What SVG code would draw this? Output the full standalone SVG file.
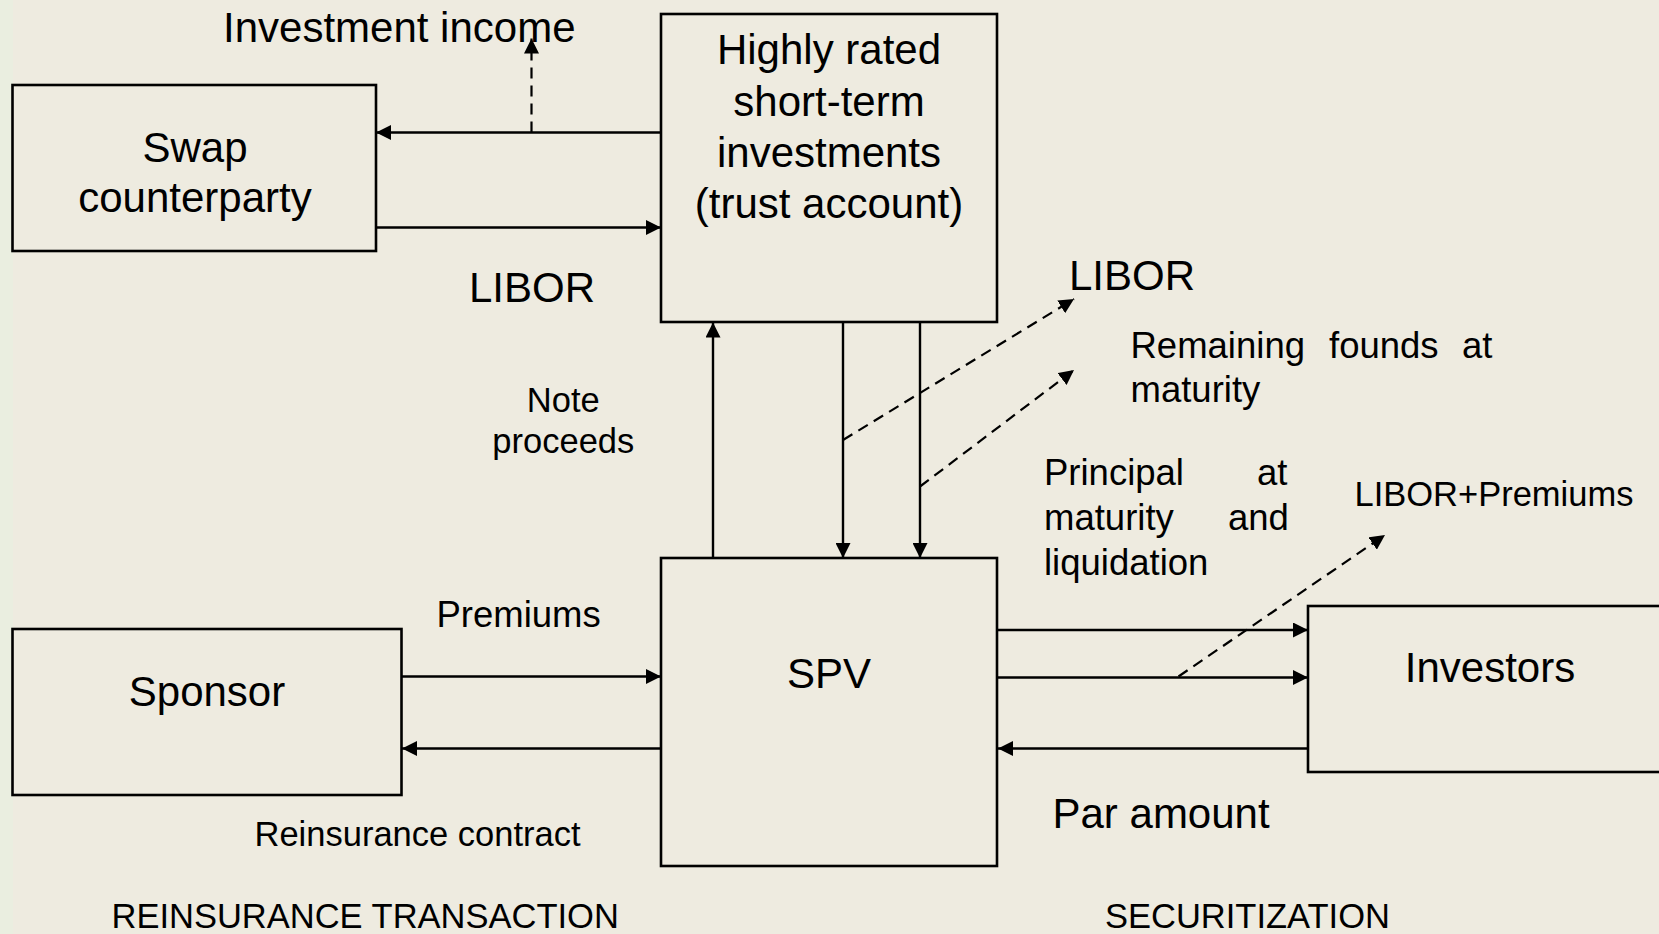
<svg xmlns="http://www.w3.org/2000/svg" width="1659" height="934" viewBox="0 0 1659 934">
<style>
.box{fill:none;stroke:#000;stroke-width:2.6}
.ln{fill:none;stroke:#000;stroke-width:2.4}
.dl{fill:none;stroke:#000;stroke-width:2.2;stroke-dasharray:11 7}
.t{font-family:"Liberation Sans",Arial,sans-serif;fill:#000}
.big{font-size:42px}
.mid{font-size:36.5px}
.sm{font-size:34.5px}
</style>
<defs>
<marker id="ah" markerWidth="15" markerHeight="15" refX="15" refY="7.5" orient="auto" markerUnits="userSpaceOnUse">
<path d="M0,0 L15,7.5 L0,15 Z" fill="#000"/>
</marker>
</defs>
<rect x="0" y="0" width="1659" height="934" fill="#EEEBE0"/>
<rect x="0" y="0" width="13" height="934" fill="#EAEEE0"/>

<g id="swap">
<rect class="box" x="12.5" y="85" width="363.5" height="166"/>
<text class="t big" x="195" y="161.5" text-anchor="middle">Swap</text>
<text class="t big" x="195" y="211.5" text-anchor="middle">counterparty</text>
</g>
<g id="trust">
<rect class="box" x="661" y="14" width="336" height="308"/>
<text class="t big" x="829" y="64" text-anchor="middle">Highly rated</text>
<text class="t big" x="829" y="116" text-anchor="middle">short-term</text>
<text class="t big" x="829" y="166.5" text-anchor="middle">investments</text>
<text class="t big" x="829" y="217.5" text-anchor="middle">(trust account)</text>
</g>
<g id="spv">
<rect class="box" x="661" y="558" width="336" height="308"/>
<text class="t big" x="829" y="688" text-anchor="middle">SPV</text>
</g>
<g id="sponsor">
<rect class="box" x="12.5" y="629" width="389" height="166"/>
<text class="t big" x="207" y="706" text-anchor="middle">Sponsor</text>
</g>
<g id="investors">
<rect class="box" x="1308" y="606" width="400" height="166"/>
<text class="t big" x="1490" y="681.5" text-anchor="middle">Investors</text>
</g>

<g id="connectors">
<line class="ln" x1="661" y1="132.5" x2="376" y2="132.5" marker-end="url(#ah)"/>
<line class="dl" x1="531.5" y1="132.5" x2="531.5" y2="38.5" marker-end="url(#ah)"/>
<line class="ln" x1="376" y1="227.5" x2="661" y2="227.5" marker-end="url(#ah)"/>
<line class="ln" x1="713" y1="558" x2="713" y2="322.5" marker-end="url(#ah)"/>
<line class="ln" x1="843" y1="322" x2="843" y2="558" marker-end="url(#ah)"/>
<line class="ln" x1="920" y1="322" x2="920" y2="558" marker-end="url(#ah)"/>
<line class="dl" x1="843" y1="440" x2="1074" y2="299" marker-end="url(#ah)"/>
<line class="dl" x1="920" y1="486.5" x2="1074" y2="370" marker-end="url(#ah)"/>
<line class="ln" x1="402" y1="676.5" x2="661" y2="676.5" marker-end="url(#ah)"/>
<line class="ln" x1="661" y1="748.5" x2="402" y2="748.5" marker-end="url(#ah)"/>
<line class="ln" x1="998" y1="630" x2="1308" y2="630" marker-end="url(#ah)"/>
<line class="ln" x1="998" y1="677.5" x2="1308" y2="677.5" marker-end="url(#ah)"/>
<line class="ln" x1="1308" y1="748.5" x2="998" y2="748.5" marker-end="url(#ah)"/>
<line class="dl" x1="1178.5" y1="676.5" x2="1385" y2="535" marker-end="url(#ah)"/>
</g>

<g id="labels">
<text class="t big" x="223" y="41.5">Investment income</text>
<text class="t big" x="469" y="301.5">LIBOR</text>
<text class="t big" x="1069" y="290">LIBOR</text>
<text class="t sm" x="563.3" y="411.5" text-anchor="middle">Note</text>
<text class="t sm" x="563.3" y="453" text-anchor="middle">proceeds</text>
<text class="t mid" x="1130.5" y="358">Remaining</text>
<text class="t mid" x="1329" y="358">founds</text>
<text class="t mid" x="1462" y="358">at</text>
<text class="t mid" x="1130.5" y="401.5">maturity</text>
<text class="t mid" x="1044" y="485">Principal</text>
<text class="t mid" x="1257" y="485">at</text>
<text class="t mid" x="1044" y="530">maturity</text>
<text class="t mid" x="1228" y="530">and</text>
<text class="t mid" x="1044" y="575">liquidation</text>
<text class="t sm" x="1354.5" y="506">LIBOR+Premiums</text>
<text class="t mid" x="436.5" y="627">Premiums</text>
<text class="t sm" x="254.5" y="846">Reinsurance contract</text>
<text class="t big" x="1052.5" y="828">Par amount</text>
<text class="t sm" x="111.5" y="928">REINSURANCE TRANSACTION</text>
<text class="t sm" x="1105" y="928">SECURITIZATION</text>
</g>
</svg>
